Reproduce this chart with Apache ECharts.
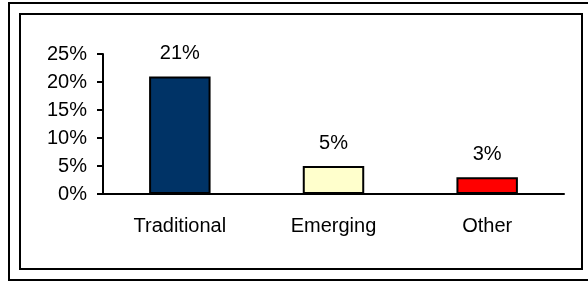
<!DOCTYPE html>
<html lang="en">
<head>
    <meta charset="UTF-8">
    <style>
    html,
    body {
        height: 100%;
        margin: 0;
        background: #fff;
    }
  </style>
</head>
<body>
<div id="chart" style="width:588px;height:282px;"></div>
<script src="https://cdn.jsdelivr.net/npm/echarts@6/dist/echarts.min.js"></script>
<script>
    var categories = ['Traditional', 'Emerging', 'Other'];
    var shares = [21, 5, 3];
    var barColors = ['#003366', '#FFFFCC', '#FF0000'];
    var yTicks = [0, 5, 10, 15, 20, 25];

    var font = 'Liberation Sans, Arial, sans-serif';

    var myChart = echarts.init(document.getElementById('chart'));
    myChart.setOption({
        animation: false,
        grid: {
            left: 103,
            right: 24,
            top: 54,
            bottom: 88
        },
        graphic: [
            {
                type: 'rect',
                shape: { x: 9, y: 3, width: 600, height: 277 },
                style: { fill: 'none', stroke: '#000', lineWidth: 2 }
            },
            {
                type: 'rect',
                shape: { x: 20, y: 14, width: 562, height: 255 },
                style: { fill: 'none', stroke: '#000', lineWidth: 2 }
            }
        ],
        xAxis: {
            type: 'category',
            data: categories,
            boundaryGap: true,
            axisLine: { lineStyle: { color: '#000', width: 2 } },
            axisTick: { length: 5, lineStyle: { color: '#000', width: 2 } },
            axisLabel: {
                color: '#000',
                fontSize: 20,
                fontFamily: font,
                margin: 22
            }
        },
        yAxis: {
            type: 'value',
            min: yTicks[0],
            max: yTicks[yTicks.length - 1],
            interval: 5,
            splitLine: { show: false },
            axisLine: { show: true, lineStyle: { color: '#000', width: 2 } },
            axisTick: { show: true, length: 6, lineStyle: { color: '#000', width: 2 } },
            axisLabel: {
                color: '#000',
                fontSize: 20,
                fontFamily: font,
                margin: 16,
                formatter: '{value}%'
            }
        },
        series: [
            {
                type: 'bar',
                barWidth: '40%',
                data: shares.map(function (v, i) {
                    return { value: v, itemStyle: { color: barColors[i] } };
                }),
                itemStyle: { borderColor: '#000', borderWidth: 2 },
                label: {
                    show: true,
                    position: 'top',
                    distance: 13,
                    color: '#000',
                    fontSize: 20,
                    fontFamily: font,
                    formatter: '{c}%'
                }
            }
        ]
    });
</script>
</body>
</html>
